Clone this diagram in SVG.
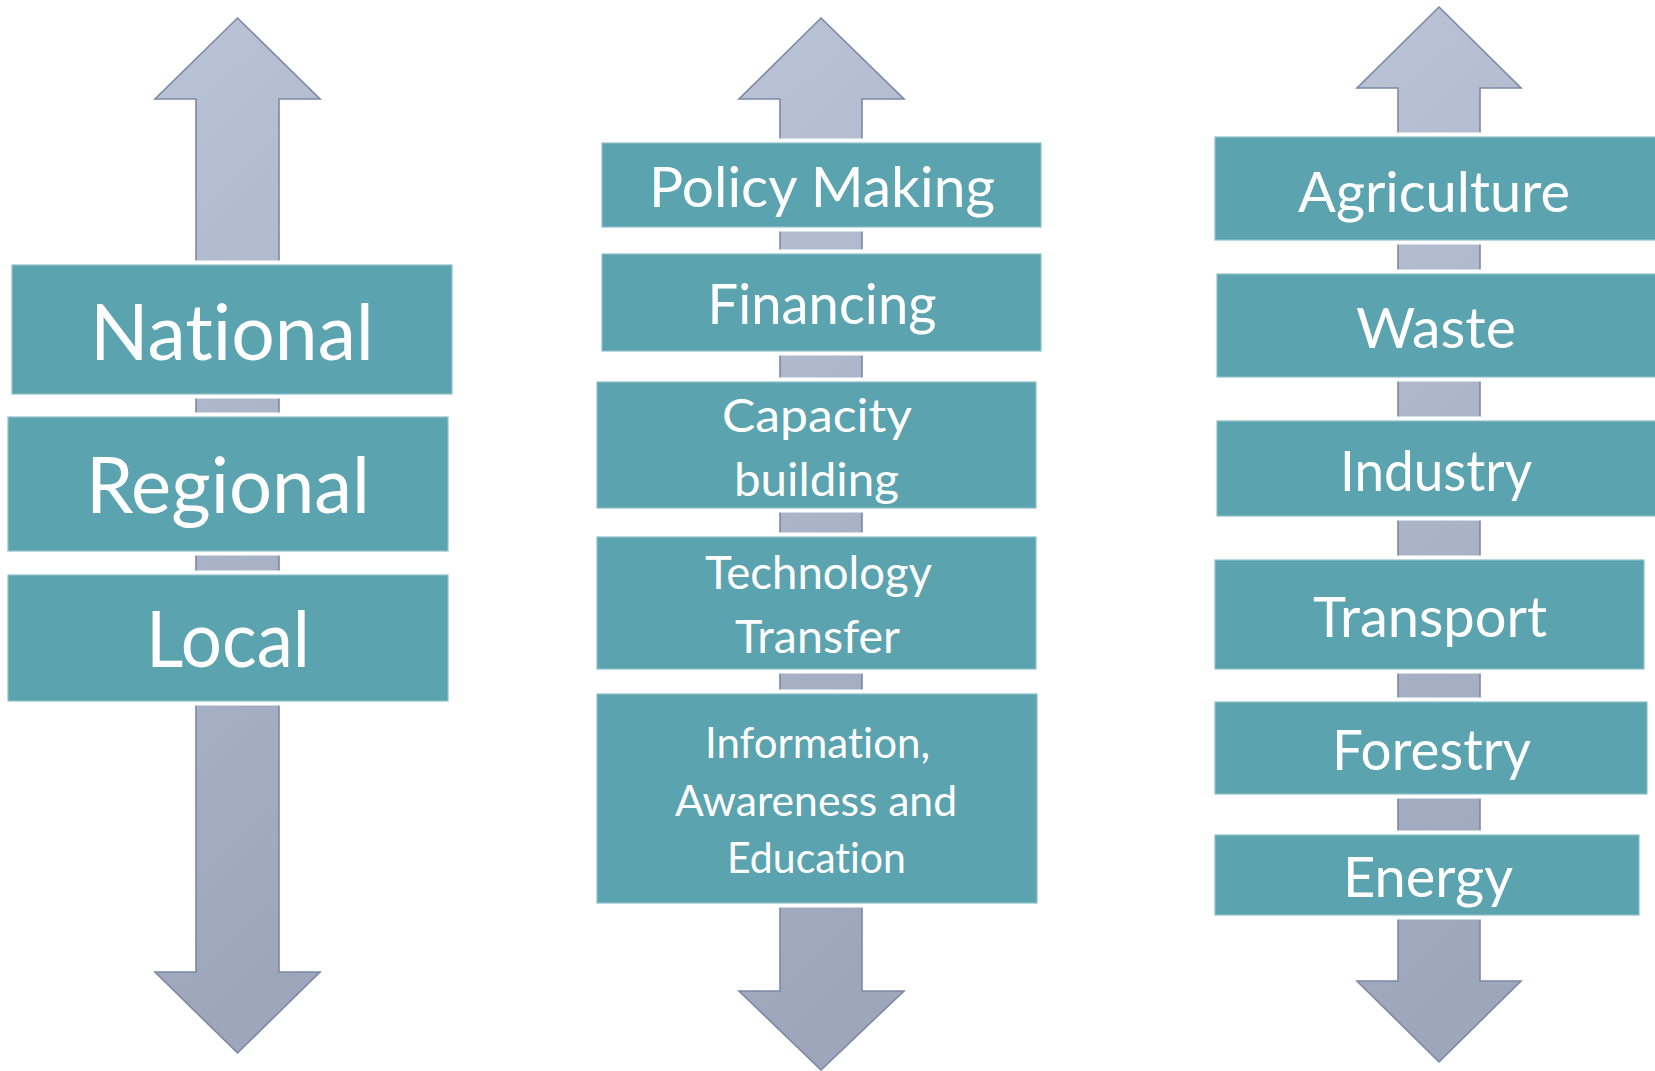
<svg xmlns="http://www.w3.org/2000/svg" width="1655" height="1071" viewBox="0 0 1655 1071">
  <defs>
    <linearGradient id="arrowGrad" x1="0" y1="0" x2="0.15" y2="1">
      <stop offset="0" stop-color="#BAC4D6"/>
      <stop offset="1" stop-color="#9DA6BA"/>
    </linearGradient>
    <style>
      .arrow { fill: url(#arrowGrad); stroke: #7C89A5; stroke-width: 1.6; stroke-linejoin: miter; }
      .box { fill: #5BA3AF; stroke: #FFFFFF; stroke-width: 9; paint-order: stroke; }
      .edge { fill: none; stroke: #8DC1C9; stroke-width: 1.2; }
      .lbl { fill: #FFFFFF; font-family: Lato, "Noto Sans", "Liberation Sans", sans-serif; text-anchor: middle; font-variant-ligatures: none; font-feature-settings: "liga" 0, "clig" 0, "dlig" 0; }
      .xl { font-size: 77px; }
      .l { font-size: 56px; }
      .m { font-size: 46px; }
      .s { font-size: 42px; }
    </style>
  </defs>
  <rect x="0" y="0" width="1655" height="1071" fill="#FFFFFF"/>

  <g id="connectors">
    <path id="arrow-scope" class="arrow" d="M237.5,18 L320,99 L279,99 L279,972 L320,972 L237.5,1053 L155,972 L196,972 L196,99 L155,99 Z"/>
    <path id="arrow-means" class="arrow" d="M821,18 L904,99 L862,99 L862,991 L904,991 L821,1070 L739,991 L780,991 L780,99 L739,99 Z"/>
    <path id="arrow-sectors" class="arrow" d="M1439,7 L1521,88 L1480,88 L1480,981 L1521,981 L1439,1062 L1357,981 L1398,981 L1398,88 L1357,88 Z"/>
  </g>

  <g id="node-national">
    <rect class="box" x="12" y="265" width="440" height="129"/>
    <rect class="edge" x="12" y="265" width="440" height="129"/>
    <text class="lbl xl" x="232" y="360" textLength="284" lengthAdjust="spacingAndGlyphs">National</text>
  </g>
  <g id="node-regional">
    <rect class="box" x="8" y="417" width="440" height="134"/>
    <rect class="edge" x="8" y="417" width="440" height="134"/>
    <text class="lbl xl" x="228" y="513" textLength="284" lengthAdjust="spacingAndGlyphs">Regional</text>
  </g>
  <g id="node-local">
    <rect class="box" x="8" y="575" width="440" height="126"/>
    <rect class="edge" x="8" y="575" width="440" height="126"/>
    <text class="lbl xl" x="228" y="667" textLength="164" lengthAdjust="spacingAndGlyphs">Local</text>
  </g>

  <g id="node-policy">
    <rect class="box" x="602" y="143" width="439" height="84"/>
    <rect class="edge" x="602" y="143" width="439" height="84"/>
    <text class="lbl l" x="822" y="207" textLength="346" lengthAdjust="spacingAndGlyphs">Policy Making</text>
  </g>
  <g id="node-financing">
    <rect class="box" x="602" y="254" width="439" height="97"/>
    <rect class="edge" x="602" y="254" width="439" height="97"/>
    <text class="lbl l" x="822" y="324" textLength="229" lengthAdjust="spacingAndGlyphs">Financing</text>
  </g>
  <g id="node-capacity">
    <rect class="box" x="597" y="382" width="439" height="126"/>
    <rect class="edge" x="597" y="382" width="439" height="126"/>
    <text class="lbl m" x="817" y="432" textLength="190" lengthAdjust="spacingAndGlyphs">Capacity</text>
    <text class="lbl m" x="816.5" y="496" textLength="165" lengthAdjust="spacingAndGlyphs">building</text>
  </g>
  <g id="node-technology">
    <rect class="box" x="597" y="537" width="439" height="132"/>
    <rect class="edge" x="597" y="537" width="439" height="132"/>
    <text class="lbl m" x="818.5" y="589" textLength="227" lengthAdjust="spacingAndGlyphs">Technology</text>
    <text class="lbl m" x="817.5" y="653" textLength="165" lengthAdjust="spacingAndGlyphs">Transfer</text>
  </g>
  <g id="node-information">
    <rect class="box" x="597" y="694" width="440" height="209"/>
    <rect class="edge" x="597" y="694" width="440" height="209"/>
    <text class="lbl s" x="817.5" y="758" textLength="225" lengthAdjust="spacingAndGlyphs">Information,</text>
    <text class="lbl s" x="816" y="816" textLength="282" lengthAdjust="spacingAndGlyphs">Awareness and</text>
    <text class="lbl s" x="816.5" y="873" textLength="179" lengthAdjust="spacingAndGlyphs">Education</text>
  </g>

  <g id="node-agriculture">
    <rect class="box" x="1215" y="137" width="445" height="103"/>
    <rect class="edge" x="1215" y="137" width="445" height="103"/>
    <text class="lbl l" x="1434" y="212" textLength="272" lengthAdjust="spacingAndGlyphs">Agriculture</text>
  </g>
  <g id="node-waste">
    <rect class="box" x="1217" y="274" width="443" height="103"/>
    <rect class="edge" x="1217" y="274" width="443" height="103"/>
    <text class="lbl l" x="1436" y="348" textLength="160" lengthAdjust="spacingAndGlyphs">Waste</text>
  </g>
  <g id="node-industry">
    <rect class="box" x="1217" y="421" width="443" height="95"/>
    <rect class="edge" x="1217" y="421" width="443" height="95"/>
    <text class="lbl l" x="1436" y="491" textLength="192" lengthAdjust="spacingAndGlyphs">Industry</text>
  </g>
  <g id="node-transport">
    <rect class="box" x="1215" y="560" width="429" height="109"/>
    <rect class="edge" x="1215" y="560" width="429" height="109"/>
    <text class="lbl l" x="1430" y="637" textLength="234" lengthAdjust="spacingAndGlyphs">Transport</text>
  </g>
  <g id="node-forestry">
    <rect class="box" x="1215" y="702" width="432" height="92"/>
    <rect class="edge" x="1215" y="702" width="432" height="92"/>
    <text class="lbl l" x="1431.5" y="770" textLength="199" lengthAdjust="spacingAndGlyphs">Forestry</text>
  </g>
  <g id="node-energy">
    <rect class="box" x="1215" y="835" width="424" height="80"/>
    <rect class="edge" x="1215" y="835" width="424" height="80"/>
    <text class="lbl l" x="1428" y="897" textLength="170" lengthAdjust="spacingAndGlyphs">Energy</text>
  </g>
</svg>
